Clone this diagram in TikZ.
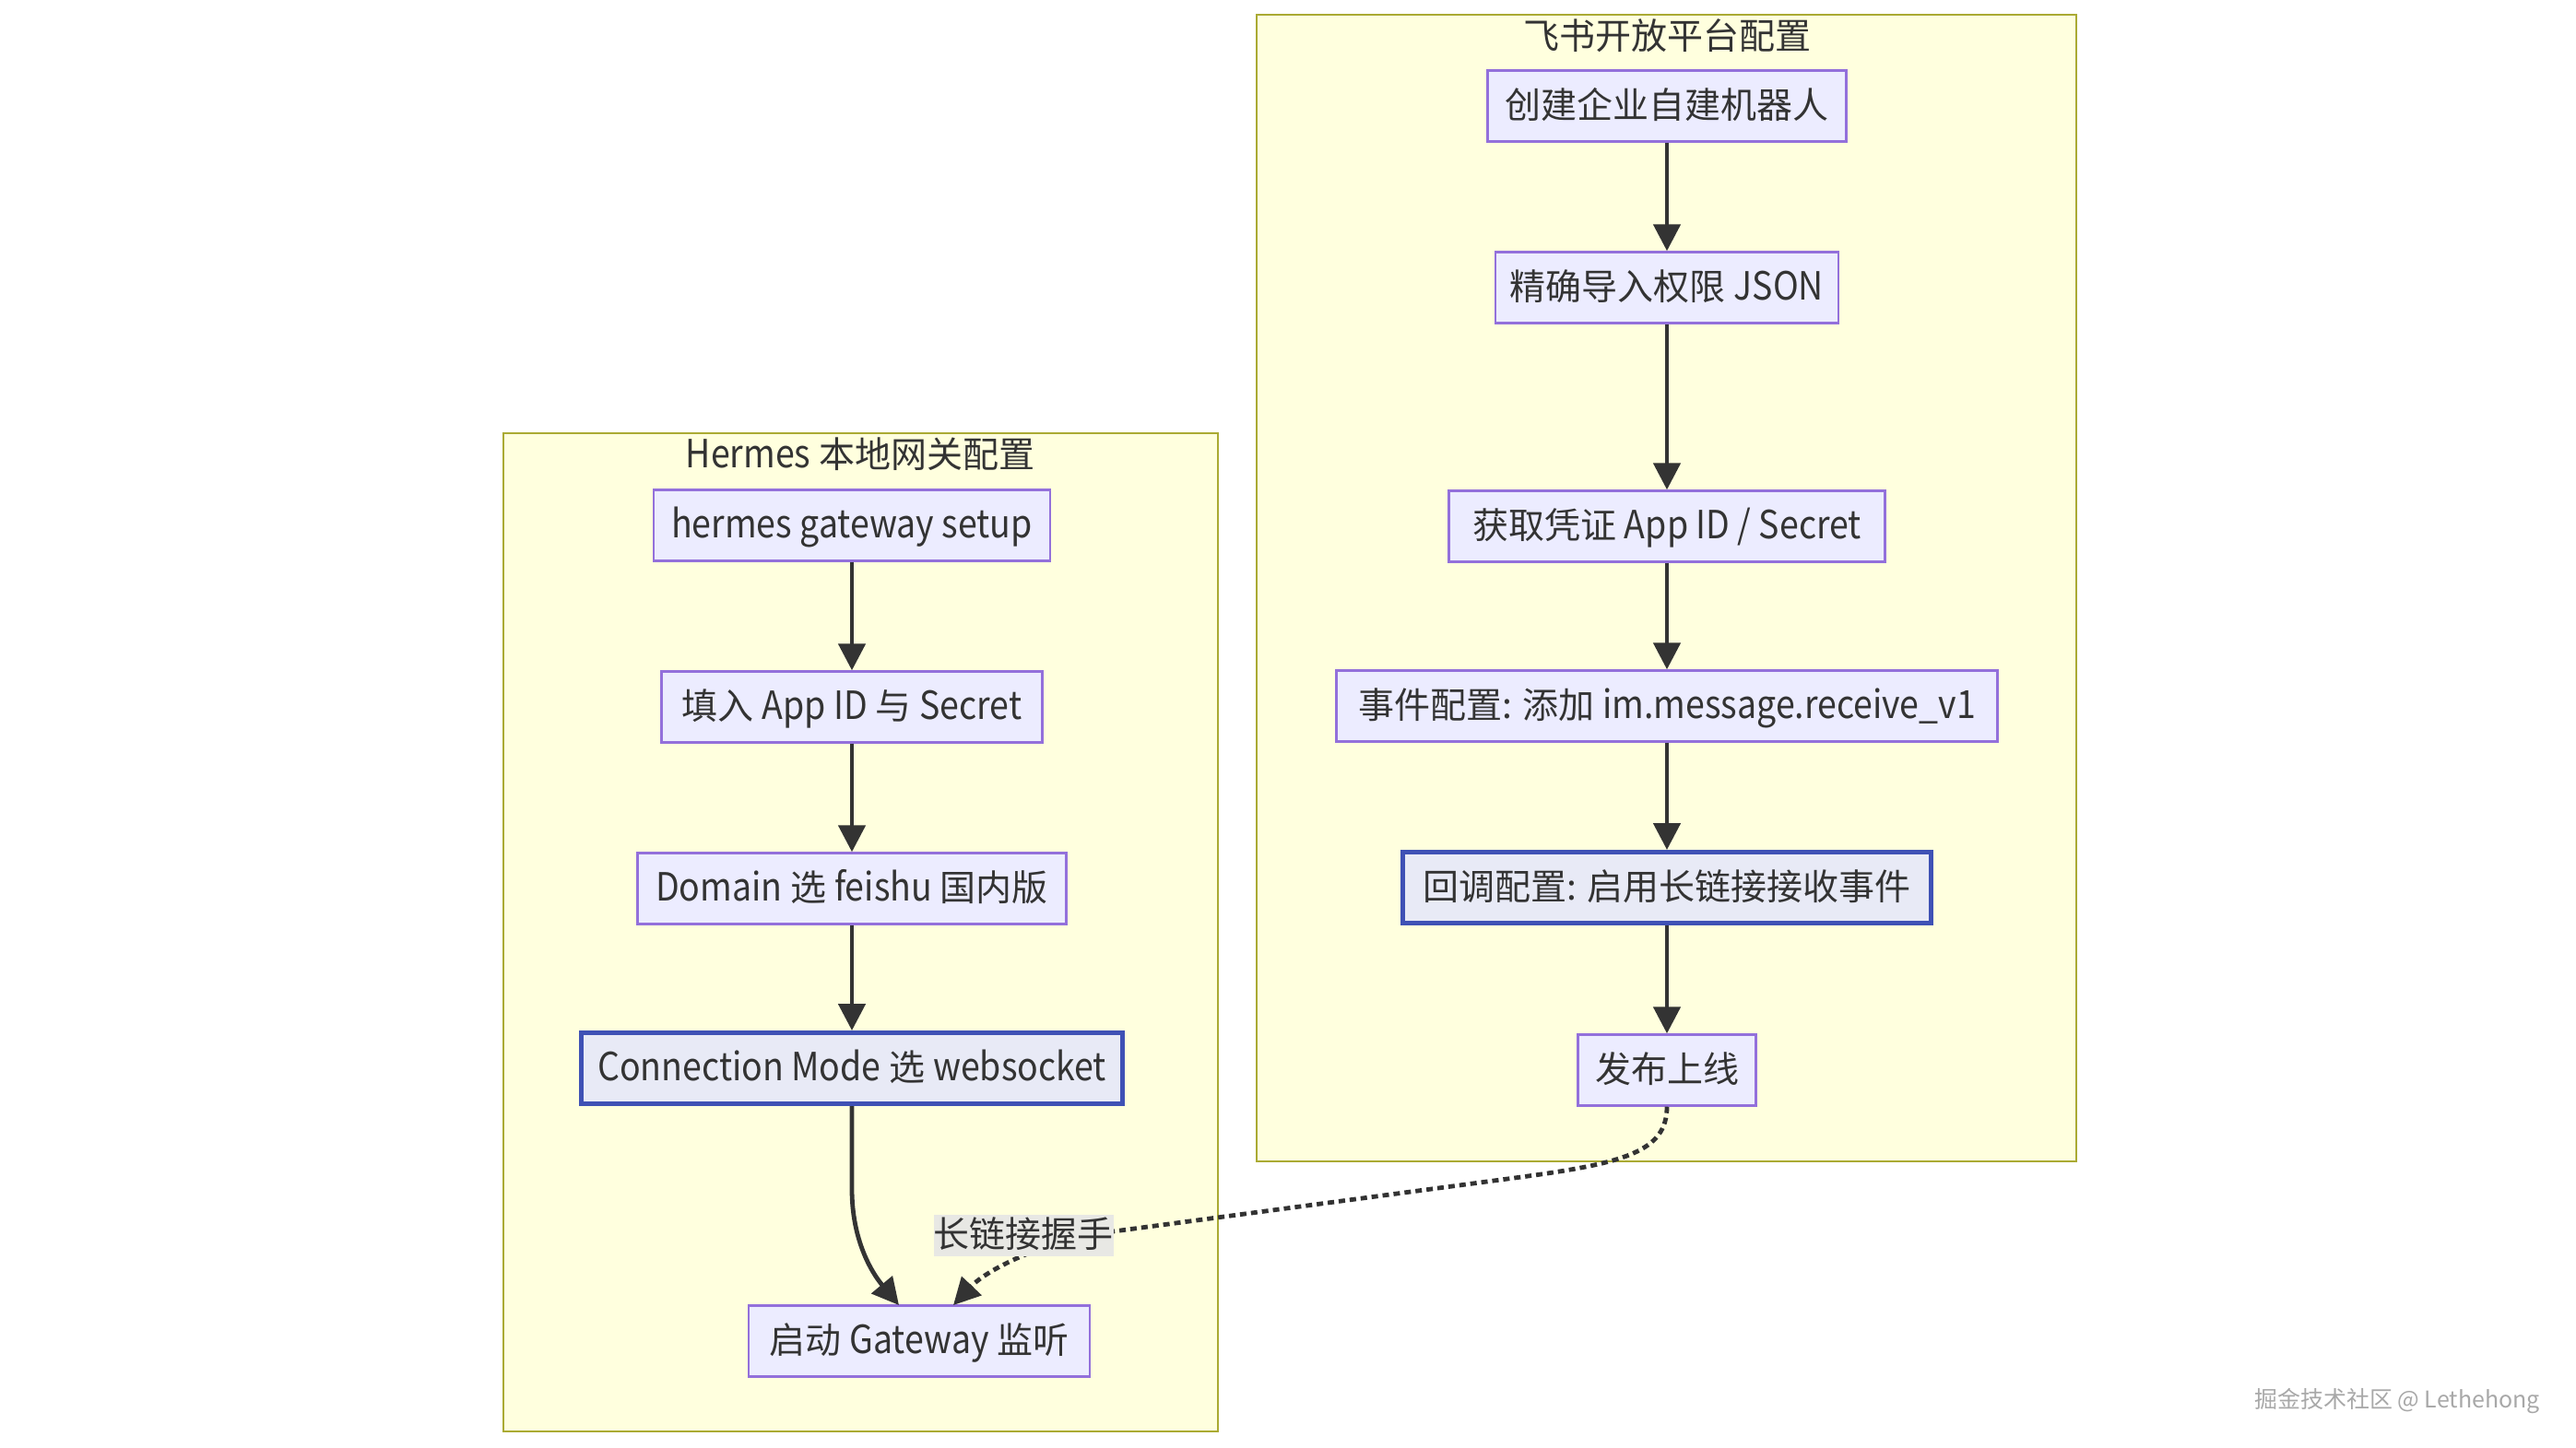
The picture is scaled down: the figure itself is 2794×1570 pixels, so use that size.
\documentclass[tikz,border=0pt]{standalone}
\usepackage{fontspec}
\setmainfont{Noto Sans CJK SC}
\newfontfamily\lat{Noto Sans CJK SC}[FakeStretch=0.89, Scale=1.08]
\usetikzlibrary{arrows.meta}
\definecolor{clfill}{HTML}{FFFFDE}
\definecolor{cldraw}{HTML}{AAAA33}
\definecolor{ndfill}{HTML}{ECECFF}
\definecolor{nddraw}{HTML}{9370DB}
\definecolor{hlfill}{HTML}{E8EAF6}
\definecolor{hldraw}{HTML}{3F51B5}
\definecolor{txt}{HTML}{333333}
\definecolor{lblbg}{HTML}{E8E8E4}
\definecolor{wm}{HTML}{A8A8A8}
\tikzset{
  clusterbox/.style={draw=cldraw, fill=clfill, line width=1.2pt},
  clustertitle/.style={text=txt, font=\fontsize{19.5pt}{23pt}\selectfont, inner sep=0pt,
    text height=1.3em, text depth=0em},
  flowbox/.style={draw=nddraw, fill=ndfill, line width=1.2pt, text=txt,
    font=\fontsize{19.5pt}{23pt}\selectfont, minimum height=38.5pt, inner sep=0pt,
    text height=1.3em, text depth=0em},
  hlbox/.style={flowbox, draw=hldraw, fill=hlfill, line width=2.5pt},
  flowarrow/.style={draw=txt, line width=2.4pt, -{Triangle[length=14.5pt,width=14.5pt]}},
  dotarrow/.style={flowarrow, dash pattern=on 3.5pt off 2.5pt},
  edgelabel/.style={fill=lblbg, text=txt, font=\fontsize{19.5pt}{23pt}\selectfont,
    minimum width=97pt, minimum height=22.5pt, inner sep=0pt,
    text height=1.3em, text depth=0em},
}
\begin{document}
\begin{tikzpicture}[x=0.5pt, y=-0.5pt]
\useasboundingbox (0,0) rectangle (2794,1570);
% clusters
\draw[clusterbox] (1363,16) rectangle (2252,1260);
\node[clustertitle] (tr) at (1808,40) {飞书开放平台配置};
\draw[clusterbox] (546,470) rectangle (1321,1553);
\node[clustertitle] (tl) at (933,494) {{\lat Hermes} 本地网关配置};
% right nodes
\node[flowbox, minimum width=194.5pt] (r1) at (1808,115) {创建企业自建机器人};
\node[flowbox, minimum width=186pt] (r2) at (1808,312) {精确导入权限 {\lat JSON}};
\node[flowbox, minimum width=236.5pt] (r3) at (1808,571) {获取凭证 {\lat App ID / Secret}};
\node[flowbox, minimum width=358.5pt] (r4) at (1808,766) {事件配置: 添加 {\lat im.message.receive\_v1}};
\node[hlbox, minimum width=286.5pt] (r5) at (1808,963) {回调配置: 启用长链接接收事件};
\node[flowbox, minimum width=96.5pt] (r6) at (1808,1161) {发布上线};
% left nodes
\node[flowbox, minimum width=215pt] (l1) at (924,570) {{\lat hermes gateway setup}};
\node[flowbox, minimum width=206.5pt] (l2) at (924,767) {填入 {\lat App ID} 与 {\lat Secret}};
\node[flowbox, minimum width=232.5pt] (l3) at (924,964) {{\lat Domain} 选 {\lat feishu} 国内版};
\node[hlbox, minimum width=293.5pt] (l4) at (924,1159) {{\lat Connection Mode} 选 {\lat websocket}};
\node[flowbox, minimum width=185pt] (l5) at (997,1455) {启动 {\lat Gateway} 监听};
% edges
\draw[flowarrow] (r1) -- (r2);
\draw[flowarrow] (r2) -- (r3);
\draw[flowarrow] (r3) -- (r4);
\draw[flowarrow] (r4) -- (r5);
\draw[flowarrow] (r5) -- (r6);
\draw[flowarrow] (l1) -- (l2);
\draw[flowarrow] (l2) -- (l3);
\draw[flowarrow] (l3) -- (l4);
\coordinate (t1) at (975,1416);
\coordinate (t2) at (1034,1416);
\draw[flowarrow] (l4.south) -- (924,1290) .. controls (924,1345) and (945,1380) .. (t1);
\draw[dotarrow] (r6.south) .. controls (1808,1250) and (1760,1262) .. (1650,1277)
   -- (1200,1337) .. controls (1130,1347) and (1070,1378) .. (t2);
\node[edgelabel] (lab) at (1110,1340) {长链接握手};
% watermark
\node[text=wm, font=\fontsize{12.5pt}{15pt}\selectfont, inner sep=0pt] (wmk) at (2600,1520) {掘金技术社区 @ Lethehong};
\end{tikzpicture}
\end{document}
